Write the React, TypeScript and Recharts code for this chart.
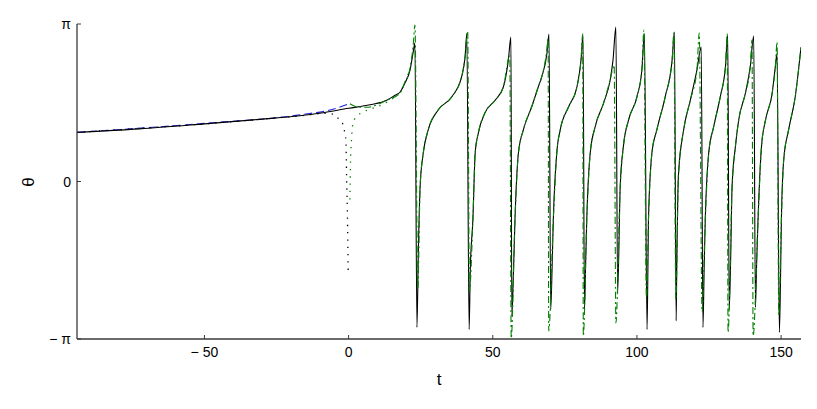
import { Label, Line, LineChart, XAxis, YAxis } from "recharts";

// t, theta pairs
const blueDashed: [number, number][] = [
  [-94.2, 0.98], [-49.9, 1.16], [-16.9, 1.33], [-4.2, 1.46], [-0.3, 1.54],
];

const blackDotted: [number, number][] = [
  [-94.2, 0.98], [-49.9, 1.15], [-16.9, 1.31], [-7.6, 1.36], [-5.0, 1.34],
  [-3.6, 1.26], [-1.9, 1.13], [-1.3, 0.96], [-0.94, 0.83], [-0.7, 0.1],
  [-0.35, -0.89], [-0.14, -1.85],
];

const greenDotted: [number, number][] = [
  [0.45, -0.36], [0.69, 0.43], [1.04, 0.86], [1.6, 1.19], [2.8, 1.29],
  [5.1, 1.39], [7.4, 1.44], [9.7, 1.49], [12.0, 1.54], [14.3, 1.62],
  [16.7, 1.72], [19.5, 1.96], [21.0, 2.2],
];

const blackSolid: [number, number][] = [
  [-94.2, 0.98], [-72.5, 1.05], [-49.9, 1.15], [-30.8, 1.24], [-16.9, 1.31],
  [-10, 1.36], [0, 1.46], [7.4, 1.53], [13.2, 1.62], [16.1, 1.72], [17.8, 1.78],
  [19.5, 1.96], [21.3, 2.22], [22.4, 2.58], [23.0, 2.76],
  [23.7, -2.91], [24.2, -1.35], [24.8, -0.1], [25.9, 0.57], [27.6, 1.03],
  [31.1, 1.43], [35.8, 1.69], [39.2, 2.09], [40.4, 2.49], [41.0, 2.95],
  [41.8, -2.95], [42.2, -1.76], [43.1, -0.76], [43.9, 0.57], [45.0, 0.97],
  [47.3, 1.37], [50.8, 1.62], [53.7, 1.89], [55.4, 2.42], [56.3, 2.88],
  [56.6, -2.68], [57.2, -1.76], [57.7, -0.76], [58.9, 0.57], [60.6, 1.03],
  [63.5, 1.49], [65.8, 1.89], [67.0, 2.09], [68.8, 2.56], [69.5, 2.94],
  [70.1, -2.55], [70.6, -1.66], [71.0, -0.76], [72.2, 0.57], [73.4, 1.03],
  [76.3, 1.49], [79.2, 1.89], [80.6, 2.42], [81.3, 2.92],
  [81.8, -2.55], [82.2, -1.66], [82.6, -0.76], [83.8, 0.57], [85.5, 1.09],
  [88.4, 1.56], [90.7, 2.02], [91.7, 2.42], [92.7, 3.08],
  [93.3, -2.22], [94.2, -0.1], [95.3, 0.7], [97.1, 1.23], [100.0, 1.69],
  [101.7, 2.22], [102.6, 2.94],
  [103.5, -2.95], [103.8, -1.76], [104.0, -0.76], [105.2, 0.57], [106.9, 1.03],
  [109.8, 1.69], [112.2, 2.42], [113.0, 2.98],
  [113.6, -2.78], [113.8, -1.76], [114.4, 0.13], [116.2, 1.03], [118.5, 1.62],
  [120.8, 2.22], [122.3, 2.68],
  [122.9, -2.91], [123.3, -1.76], [123.7, -0.76], [124.9, 0.57], [126.6, 1.09],
  [128.9, 1.69], [130.7, 2.29], [131.5, 2.92],
  [132.0, -2.55], [132.5, -1.56], [133.0, -0.1], [134.1, 0.67], [135.3, 1.23],
  [137.6, 1.76], [139.3, 2.29], [140.5, 2.9],
  [141.1, -2.51], [141.5, -1.66], [142.0, -0.76], [143.2, 0.7], [144.6, 1.23],
  [146.9, 1.76], [148.0, 2.29], [148.6, 2.55],
  [149.4, -3.01], [149.8, -1.95], [150.1, -0.76], [150.9, 0.43], [152.6, 1.03],
  [154.9, 1.69], [156.9, 2.68],
];

const greenDashDot: [number, number][] = [
  [0.45, 1.55], [2.8, 1.49], [6.25, 1.48], [13.2, 1.62], [17.8, 1.76],
  [19.5, 1.98], [21.3, 2.26], [22.4, 2.72], [23.0, 3.12],
  [24.0, -2.15], [24.8, -0.1], [25.9, 0.57], [27.6, 1.03], [31.1, 1.43],
  [35.8, 1.69], [39.2, 2.09], [40.4, 2.49], [41.3, 3.0],
  [41.9, -2.2], [43.1, -0.76], [43.9, 0.57], [45.0, 0.97], [47.3, 1.37],
  [50.8, 1.62], [53.7, 1.89], [55.9, 2.52],
  [56.4, -3.13], [57.7, -0.76], [58.9, 0.57], [60.6, 1.03], [63.5, 1.49],
  [65.8, 1.89], [67.0, 2.09], [68.6, 2.56], [69.2, 2.85],
  [69.4, -2.98], [71.0, -0.76], [72.2, 0.57], [73.4, 1.03], [76.3, 1.49],
  [79.2, 1.89], [80.6, 2.42], [81.2, 2.95],
  [81.4, -3.08], [82.6, -0.76], [83.8, 0.57], [85.5, 1.09], [88.4, 1.56],
  [90.7, 2.02], [92.1, 2.32],
  [92.7, -2.82], [94.2, -0.1], [95.3, 0.7], [97.1, 1.23], [100.0, 1.69],
  [101.7, 2.22], [102.4, 3.02],
  [103.3, -2.36], [104.0, -0.76], [105.2, 0.57], [106.9, 1.03], [109.8, 1.69],
  [112.2, 2.42], [112.8, 2.96],
  [113.5, -2.36], [114.4, 0.13], [116.2, 1.03], [118.5, 1.62], [120.8, 2.22],
  [121.6, 2.96],
  [122.6, -2.6], [123.7, -0.76], [124.9, 0.57], [126.6, 1.09], [128.9, 1.69],
  [130.7, 2.29], [131.3, 2.95],
  [131.6, -3.01], [133.0, -0.1], [134.1, 0.67], [135.3, 1.23], [137.6, 1.76],
  [139.3, 2.29], [139.9, 2.82],
  [140.3, -3.08], [142.0, -0.76], [143.2, 0.7], [144.6, 1.23], [146.9, 1.76],
  [148.0, 2.29], [148.6, 2.78],
  [149.2, -2.68], [150.1, -0.76], [150.9, 0.43], [152.6, 1.03], [154.9, 1.69],
  [156.9, 2.68],
];

const tTicks = [-50, 0, 50, 100, 150];
const tTickLabels = ["\u2212 50", "0", "50", "100", "150"];
const thetaTicks = [-Math.PI, 0, Math.PI];
const thetaTickLabels = ["\u2212 \u03c0", "0", "\u03c0"];

const PLOT = { left: 77, right: 801, top: 24, bottom: 339 };
const FRAME = "#3a3a3a";
const FONT = "'Liberation Sans', Arial, sans-serif";

const toRows = (pts: [number, number][]) => pts.map(([t, v]) => ({ t, v }));

function BottomTick(props: any) {
  const { x, payload } = props;
  const i = tTicks.indexOf(payload.value);
  return (
    <g>
      <line x1={x} x2={x} y1={PLOT.bottom} y2={PLOT.bottom - 4} stroke={FRAME} />
      <text x={x} y={357} textAnchor="middle" fontSize={14} fontFamily={FONT} fill="#000">
        {tTickLabels[i]}
      </text>
    </g>
  );
}

function TopTick(props: any) {
  const { x } = props;
  return <line x1={x} x2={x} y1={PLOT.top} y2={PLOT.top + 4} stroke={FRAME} />;
}

function LeftTick(props: any) {
  const { y, payload } = props;
  const i = thetaTicks.indexOf(payload.value);
  return (
    <g>
      <line x1={PLOT.left} x2={PLOT.left + 4} y1={y} y2={y} stroke={FRAME} />
      <text x={71} y={y + 5} textAnchor="end" fontSize={14} fontFamily={FONT} fill="#000">
        {thetaTickLabels[i]}
      </text>
    </g>
  );
}

function RightTick(props: any) {
  const { y } = props;
  return <line x1={PLOT.right} x2={PLOT.right - 4} y1={y} y2={y} stroke={FRAME} />;
}

export default function App() {
  return (
    <div style={{ position: "absolute", left: 0, top: 0, background: "#fff" }}>
      <LineChart
        width={817}
        height={409}
        margin={{ top: PLOT.top, right: 817 - PLOT.right, bottom: 0, left: 0 }}
      >
        <XAxis
          xAxisId="b"
          type="number"
          dataKey="t"
          domain={[-94.2, 156.9]}
          allowDataOverflow
          ticks={tTicks}
          tick={<BottomTick />}
          tickLine={false}
          axisLine={{ stroke: FRAME, strokeWidth: 1.3 }}
          height={409 - PLOT.bottom}
        >
          <Label
            content={() => (
              <text x={439} y={385} textAnchor="middle" fontSize={17} fontFamily={FONT}>
                t
              </text>
            )}
          />
        </XAxis>
        <XAxis
          xAxisId="tp"
          orientation="top"
          type="number"
          dataKey="t"
          domain={[-94.2, 156.9]}
          allowDataOverflow
          ticks={tTicks}
          tick={<TopTick />}
          tickLine={false}
          axisLine={{ stroke: FRAME, strokeWidth: 1.3 }}
          height={0}
        />
        <YAxis
          yAxisId="l"
          type="number"
          domain={[-Math.PI, Math.PI]}
          allowDataOverflow
          ticks={thetaTicks}
          tick={<LeftTick />}
          tickLine={false}
          axisLine={{ stroke: FRAME, strokeWidth: 1.3 }}
          width={PLOT.left}
        >
          <Label
            content={() => (
              <text
                x={28}
                y={182}
                transform="rotate(-90 28 182)"
                textAnchor="middle"
                dominantBaseline="central"
                fontSize={17}
                fontFamily={FONT}
              >
                θ
              </text>
            )}
          />
        </YAxis>
        <YAxis
          yAxisId="r"
          orientation="right"
          type="number"
          domain={[-Math.PI, Math.PI]}
          allowDataOverflow
          ticks={[0]}
          tick={<RightTick />}
          tickLine={false}
          axisLine={{ stroke: FRAME, strokeWidth: 1.3 }}
          width={0}
        />
        <Line
          xAxisId="b"
          yAxisId="l"
          data={toRows(blueDashed)}
          dataKey="v"
          type="monotone"
          stroke="#2020e0"
          strokeWidth={1.1}
          strokeDasharray="8 4"
          dot={false}
          activeDot={false}
          isAnimationActive={false}
        />
        <Line
          xAxisId="b"
          yAxisId="l"
          data={toRows(blackDotted)}
          dataKey="v"
          type="monotone"
          stroke="#000"
          strokeWidth={1.3}
          strokeDasharray="1.3 6"
          dot={false}
          activeDot={false}
          isAnimationActive={false}
        />
        <Line
          xAxisId="b"
          yAxisId="l"
          data={toRows(greenDotted)}
          dataKey="v"
          type="monotone"
          stroke="#008000"
          strokeWidth={1.3}
          strokeDasharray="1.3 6"
          dot={false}
          activeDot={false}
          isAnimationActive={false}
        />
        <Line
          xAxisId="b"
          yAxisId="l"
          data={toRows(blackSolid)}
          dataKey="v"
          type="monotone"
          stroke="#000"
          strokeWidth={1.1}
          dot={false}
          activeDot={false}
          isAnimationActive={false}
        />
        <Line
          xAxisId="b"
          yAxisId="l"
          data={toRows(greenDashDot)}
          dataKey="v"
          type="monotone"
          stroke="#008000"
          strokeWidth={1.1}
          strokeDasharray="7 3 2 3"
          dot={false}
          activeDot={false}
          isAnimationActive={false}
        />
      </LineChart>
    </div>
  );
}
